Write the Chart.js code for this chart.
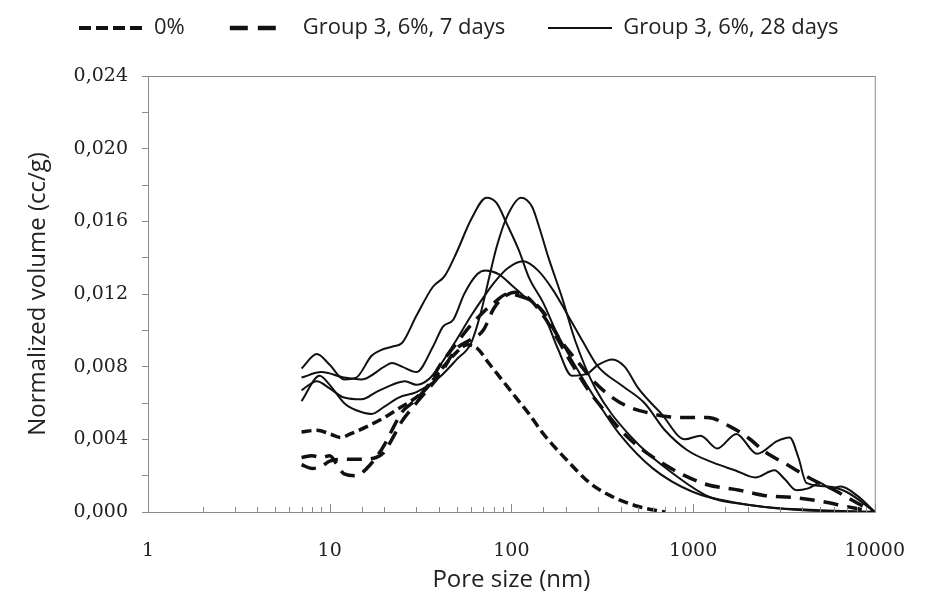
<!DOCTYPE html>
<html>
<head>
<meta charset="utf-8">
<script src="https://cdn.jsdelivr.net/npm/chart.js@4.4.1/dist/chart.umd.min.js"></script>
<style>
  html, body { margin: 0; padding: 0; background: #fff; }
</style>
</head>
<body>
<canvas id="chart" width="933" height="603"></canvas>
<script>
// Pore size (nm) / normalized volume (cc/g)

// 0% (reference)
const ref0Size = [7, 8.5, 10, 11.5, 13, 16, 20, 24, 28, 34, 40, 50, 57, 65, 75, 90, 106, 125, 150, 200, 270, 350, 500, 700];
const ref0Vol  = [0.0044, 0.0045, 0.0043, 0.0041, 0.0043, 0.0047, 0.0052, 0.0057, 0.0061, 0.0068, 0.0077, 0.0088, 0.0092, 0.0090, 0.0082, 0.0072, 0.0063, 0.0054, 0.0043, 0.0029, 0.0016, 0.0009, 0.0003, 0.0];

// Group 3, 6%, 7 days
const d7aSize = [7, 8, 9, 10, 11, 12, 14, 16, 18, 20, 22, 25, 30, 35, 40, 50, 60, 70, 80, 95, 110, 130, 150, 185, 235, 290, 400, 600, 850, 1200, 1600, 2000, 2500, 3300, 4500, 6000, 8000, 10000];
const d7aVol  = [0.0030, 0.0031, 0.0030, 0.0031, 0.0026, 0.0021, 0.0020, 0.0024, 0.0030, 0.0037, 0.0045, 0.0055, 0.0062, 0.0070, 0.0080, 0.0093, 0.0103, 0.0110, 0.0115, 0.0120, 0.0119, 0.0116, 0.0110, 0.0095, 0.0082, 0.0071, 0.0060, 0.0054, 0.0052, 0.0052, 0.0047, 0.0041, 0.0033, 0.0026, 0.0018, 0.0012, 0.0005, 0.0];

const d7bSize = [7, 8, 9, 10, 12, 15, 18, 20, 22, 25, 30, 40, 50, 60, 70, 80, 90, 105, 120, 150, 180, 220, 270, 330, 400, 500, 700, 900, 1200, 1800, 2500, 3500, 5000, 7000, 10000];
const d7bVol  = [0.0026, 0.0024, 0.0025, 0.0028, 0.0029, 0.0029, 0.0030, 0.0033, 0.0040, 0.0050, 0.0060, 0.0075, 0.0090, 0.0095, 0.0100, 0.0112, 0.0118, 0.0121, 0.0119, 0.0108, 0.0095, 0.0080, 0.0066, 0.0055, 0.0045, 0.0036, 0.0026, 0.0020, 0.0015, 0.0012, 0.0009, 0.0008, 0.0006, 0.0003, 0.0];

// Group 3, 6%, 28 days
const d28aSize = [7, 8.5, 10, 12, 14, 17, 19, 22, 25, 30, 37, 43, 50, 60, 73, 83, 94, 110, 125, 150, 175, 220, 300, 400, 600, 1000, 2000, 4000, 10000];
const d28aVol  = [0.0079, 0.0087, 0.0081, 0.0073, 0.0074, 0.0086, 0.0089, 0.0091, 0.0093, 0.0108, 0.0124, 0.0130, 0.0143, 0.0161, 0.0173, 0.0170, 0.0159, 0.0144, 0.0129, 0.0115, 0.0100, 0.0082, 0.0060, 0.0042, 0.0024, 0.0011, 0.0004, 0.0001, 0.0];

const d28bSize = [7, 8.8, 10, 12, 14, 17, 20, 24, 30, 40, 50, 60, 68, 75, 83, 95, 113, 130, 142, 160, 190, 225, 290, 440, 830, 1250, 2000, 3000, 5000, 10000];
const d28bVol  = [0.0061, 0.0075, 0.0070, 0.0060, 0.0056, 0.0054, 0.0058, 0.0063, 0.0066, 0.0074, 0.0084, 0.0093, 0.0110, 0.0128, 0.0146, 0.0163, 0.0173, 0.0168, 0.0157, 0.0140, 0.0118, 0.0094, 0.0068, 0.0043, 0.0019, 0.0008, 0.0004, 0.0002, 0.0001, 0.0];

const d28cSize = [7, 8.5, 10, 12, 15, 18, 22, 26, 30, 35, 40, 50, 60, 70, 80, 95, 116, 140, 170, 200, 250, 300, 400, 540, 700, 930, 1300, 1700, 2200, 2800, 3200, 3700, 4300, 5000, 5700, 6500, 8000, 10000];
const d28cVol  = [0.0067, 0.0072, 0.0068, 0.0063, 0.0062, 0.0066, 0.0070, 0.0072, 0.0070, 0.0073, 0.0080, 0.0095, 0.0108, 0.0118, 0.0126, 0.0134, 0.0138, 0.0133, 0.0122, 0.0110, 0.0093, 0.0080, 0.0070, 0.0060, 0.0045, 0.0034, 0.0027, 0.0023, 0.0019, 0.0023, 0.0018, 0.0012, 0.0013, 0.0016, 0.0013, 0.0014, 0.0009, 0.0];

const d28dSize = [7, 9, 12, 15, 20, 22, 25, 30, 37, 42, 48, 55, 65, 72, 85, 100, 120, 150, 180, 215, 260, 300, 360, 420, 500, 670, 900, 1100, 1360, 1730, 2250, 2900, 3400, 3800, 4200, 5500, 7000, 10000];
const d28dVol  = [0.0074, 0.0077, 0.0074, 0.0073, 0.0080, 0.0082, 0.0080, 0.0077, 0.0091, 0.0102, 0.0106, 0.0120, 0.0131, 0.0133, 0.0131, 0.0125, 0.0118, 0.0109, 0.0090, 0.0075, 0.0076, 0.0081, 0.0084, 0.0080, 0.0068, 0.0054, 0.0040, 0.0042, 0.0035, 0.0043, 0.0032, 0.0039, 0.0041, 0.0030, 0.0016, 0.0014, 0.0011, 0.0];

// y axis: 0 .. 0,024, labelled every 0,004
const yMax = 0.024;
const yStep = 0.002;

const pts = (xs, ys) => xs.map((x, i) => ({ x: x, y: ys[i] }));

const DASH_0 = [10, 5];
const DASH_7 = [15, 9];

// small legend swatch (canvas used as point style, points themselves are hidden)
function swatch(dash, width, segs) {
    const c = document.createElement('canvas');
    c.width = 64;
    c.height = 8;
    const g = c.getContext('2d');
    g.strokeStyle = '#111';
    g.lineWidth = width;
    g.setLineDash(dash);
    g.beginPath();
    g.moveTo(segs[0], 4);
    g.lineTo(segs[1], 4);
    g.stroke();
    return c;
}

function series(label, xs, ys, dash, width, sw) {
    return {
        label: label,
        data: pts(xs, ys),
        borderColor: '#111',
        backgroundColor: '#111',
        borderWidth: width,
        borderDash: dash,
        pointRadius: 0,
        pointStyle: sw,
        fill: false,
        cubicInterpolationMode: 'monotone'
    };
}

const sw0 = swatch([12, 5], 4, [0, 64]);
const sw7 = swatch([18, 10], 4.5, [2, 48]);
const sw28 = swatch([], 2.2, [0, 64]);

const datasets = [
    series('0%', ref0Size, ref0Vol, DASH_0, 3.5, sw0),
    series('Group 3, 6%, 7 days', d7aSize, d7aVol, DASH_7, 3.5, sw7),
    series('Group 3, 6%, 7 days', d7bSize, d7bVol, DASH_7, 3.5, sw7),
    series('Group 3, 6%, 28 days', d28aSize, d28aVol, [], 2, sw28),
    series('Group 3, 6%, 28 days', d28bSize, d28bVol, [], 2, sw28),
    series('Group 3, 6%, 28 days', d28cSize, d28cVol, [], 2, sw28),
    series('Group 3, 6%, 28 days', d28dSize, d28dVol, [], 2, sw28)
];

const isDecade = v => {
    const l = Math.log10(v);
    return Math.abs(l - Math.round(l)) < 1e-9;
};

// plot frame + inward ticks on the log axis
const frameTicks = {
    id: 'frameTicks',
    afterDatasetsDraw(chart) {
        const { ctx, chartArea: a, scales: { x } } = chart;
        ctx.save();
        ctx.strokeStyle = '#8a8a8a';
        ctx.lineWidth = 1;
        ctx.strokeRect(a.left + 0.5, a.top + 0.5, a.right - a.left, a.bottom - a.top);
        x.ticks.forEach(t => {
            const px = Math.round(x.getPixelForValue(t.value)) + 0.5;
            ctx.beginPath();
            ctx.moveTo(px, a.bottom);
            ctx.lineTo(px, a.bottom - (isDecade(t.value) ? 8 : 5));
            ctx.stroke();
        });
        ctx.restore();
    }
};

// fixed legend height so the plot starts where the figure's does,
// and the legend row nudged right like in the figure
const LEGEND_SHIFT = 36;
const legendSpace = {
    id: 'legendSpace',
    beforeInit(chart) {
        const lg = chart.legend;
        const fit = lg.fit;
        lg.fit = function () {
            fit.call(this);
            this.height = 102;
        };
        const draw = lg.draw;
        lg.draw = function () {
            this.ctx.save();
            this.ctx.translate(LEGEND_SHIFT, 0);
            draw.call(this);
            this.ctx.restore();
        };
    }
};

new Chart(document.getElementById('chart'), {
    type: 'line',
    data: { datasets: datasets },
    plugins: [frameTicks, legendSpace],
    options: {
        responsive: false,
        animation: false,
        layout: { padding: { top: -26, left: 0, right: 51, bottom: 0 } },
        plugins: {
            tooltip: { enabled: false },
            legend: {
                position: 'top',
                align: 'start',
                labels: {
                    color: '#222',
                    font: { family: 'Open Sans', size: 22 },
                    usePointStyle: true,
                    pointStyleWidth: 64,
                    padding: 43,
                    filter: item => [0, 1, 3].includes(item.datasetIndex)
                }
            }
        },
        scales: {
            x: {
                type: 'logarithmic',
                min: 1,
                max: 10000,
                afterFit: s => { s.height = 91; },
                grid: { display: false, drawTicks: false },
                border: { display: false },
                ticks: {
                    autoSkip: false,
                    maxRotation: 0,
                    padding: 28,
                    color: '#222',
                    font: { family: 'DejaVu Serif', size: 19 },
                    callback: v => isDecade(v) ? String(Math.round(v)) : ''
                },
                title: {
                    display: true,
                    text: 'Pore size (nm)',
                    color: '#222',
                    font: { family: 'Open Sans', size: 24 },
                    padding: { bottom: 8 }
                }
            },
            y: {
                min: 0,
                max: yMax,
                afterFit: s => { s.width = 148; },
                grid: { drawOnChartArea: false, drawTicks: true, tickLength: 6, color: '#8a8a8a' },
                border: { display: false },
                ticks: {
                    stepSize: yStep,
                    padding: 14,
                    color: '#222',
                    font: { family: 'DejaVu Serif', size: 19 },
                    callback: v => Math.round(v * 1000) % 4 === 0 ? v.toFixed(3).replace('.', ',') : ''
                },
                title: {
                    display: true,
                    text: 'Normalized volume (cc/g)',
                    color: '#222',
                    font: { family: 'Open Sans', size: 24 },
                    padding: { top: 24 }
                }
            }
        }
    }
});
</script>
</body>
</html>
